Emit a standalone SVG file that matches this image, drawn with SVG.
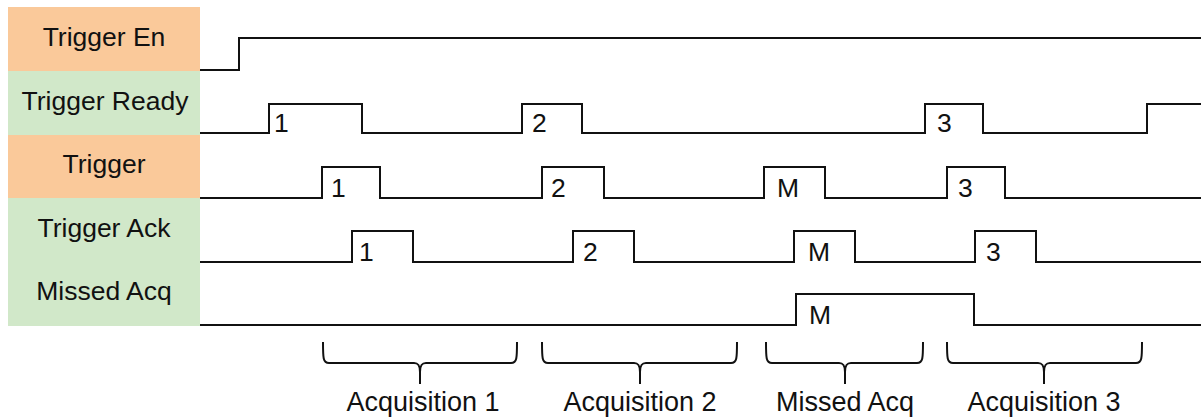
<svg xmlns="http://www.w3.org/2000/svg" width="1201" height="418" viewBox="0 0 1201 418">
<style>
.bg{fill:#fff}
.or{fill:#FAC99A}
.gr{fill:#D1E8C9}
.lbl{font-family:"Liberation Sans",Arial,sans-serif;font-size:26.5px;fill:#111;text-anchor:middle}
.num{font-family:"Liberation Sans",Arial,sans-serif;font-size:26.5px;fill:#111}
.wave{fill:none;stroke:#111;stroke-width:2}
.brace{fill:none;stroke:#111;stroke-width:2}
.cap{font-family:"Liberation Sans",Arial,sans-serif;font-size:27px;fill:#111;text-anchor:middle}
</style>
<rect class="bg" x="0" y="0" width="1201" height="418"/>
<g id="label-trigger-en"><rect class="or" x="8" y="7" width="192" height="64"/><text class="lbl" x="104" y="46">Trigger En</text></g>
<g id="label-trigger-ready"><rect class="gr" x="8" y="71" width="192" height="64"/><text class="lbl" x="105" y="110">Trigger Ready</text></g>
<g id="label-trigger"><rect class="or" x="8" y="135" width="192" height="63"/><text class="lbl" x="104" y="173">Trigger</text></g>
<g id="label-trigger-ack"><rect class="gr" x="8" y="198" width="192" height="64"/><text class="lbl" x="104" y="237">Trigger Ack</text></g>
<g id="label-missed-acq"><rect class="gr" x="8" y="262" width="192" height="64"/><text class="lbl" x="104" y="300">Missed Acq</text></g>
<g id="connectors">
<path id="wave-trigger-en" class="wave" d="M200 70 H239 V38 H1201"/>
<path id="wave-trigger-ready" class="wave" d="M200 133 H269 V104 H362 V133 H522 V104 H582 V133 H925 V104 H983 V133 H1147 V104 H1201"/>
<path id="wave-trigger" class="wave" d="M200 198 H322 V167 H380 V198 H542 V167 H604 V198 H764 V167 H825 V198 H947 V167 H1005 V198 H1201"/>
<path id="wave-trigger-ack" class="wave" d="M200 262 H352 V231 H413 V262 H573 V231 H634 V262 H794 V231 H855 V262 H975 V231 H1036 V262 H1201"/>
<path id="wave-missed-acq" class="wave" d="M200 325 H796 V294 H974 V325 H1201"/>
</g>
<g id="pulse-labels">
<text class="num" x="274" y="132">1</text>
<text class="num" x="532" y="132">2</text>
<text class="num" x="937" y="132">3</text>
<text class="num" x="331" y="197">1</text>
<text class="num" x="551" y="197">2</text>
<text class="num" x="777" y="197">M</text>
<text class="num" x="958" y="197">3</text>
<text class="num" x="359" y="261">1</text>
<text class="num" x="583" y="261">2</text>
<text class="num" x="808" y="261">M</text>
<text class="num" x="986" y="261">3</text>
<text class="num" x="809" y="324">M</text>
</g>
<g id="brace-acq1"><path class="brace" d="M323 342 C323 358 323 363 329 363 H414 C418 363 420 365 420 372 V384 M420 372 C420 365 422 363 426 363 H511 C517 363 517 358 517 342"/><text class="cap" x="423" y="411">Acquisition 1</text></g>
<g id="brace-acq2"><path class="brace" d="M542 342 C542 358 542 363 548 363 H634 C638 363 640 365 640 372 V384 M640 372 C640 365 642 363 646 363 H731 C737 363 737 358 737 342"/><text class="cap" x="640" y="411">Acquisition 2</text></g>
<g id="brace-missed"><path class="brace" d="M766 342 C766 358 766 363 772 363 H839 C843 363 845 365 845 372 V384 M845 372 C845 365 847 363 851 363 H917 C923 363 923 358 923 342"/><text class="cap" x="845" y="411">Missed Acq</text></g>
<g id="brace-acq3"><path class="brace" d="M947 342 C947 358 947 363 953 363 H1038 C1042 363 1044 365 1044 372 V384 M1044 372 C1044 365 1046 363 1050 363 H1136 C1142 363 1142 358 1142 342"/><text class="cap" x="1044" y="411">Acquisition 3</text></g>
</svg>
